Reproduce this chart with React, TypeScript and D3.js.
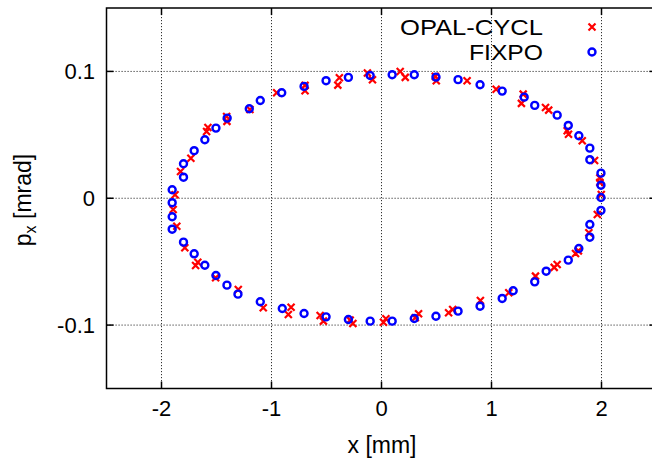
import React, { useEffect, useRef } from "react";
import * as d3 from "d3";

const xTicks = [-2, -1, 0, 1, 2];
const yTicks = [-0.1, 0, 0.1];
const yTickLabels = ["-0.1", "0", "0.1"];
const seriesNames = ["OPAL-CYCL", "FIXPO"];

const opalX = [
  -1.877, -1.827, -1.733, -1.59, -1.578, -1.408, -1.405, -1.196, -0.953, -0.695, -0.695,
  -0.397, -0.383, -0.128, -0.082, 0.17, 0.216, 0.489, 0.498, 0.778, 1.042, 1.288, 1.272,
  1.491, 1.52, 1.688, 1.7, 1.825, 1.937, 1.985, 1.985, 1.998, 1.962, 1.885, 1.764, 1.79,
  1.597, 1.57, 1.4, 1.157, 0.899, 0.647, 0.61, 0.337, 0.307, 0.018, 0.04, -0.285, -0.26,
  -0.558, -0.528, -0.822, -0.847, -1.075, -1.302, -1.508, -1.67, -1.69, -1.788, -1.861,
  -1.894,
];
const opalY = [
  0.0028, 0.0211, 0.0316, 0.0527, 0.0558, 0.0645, 0.0606, 0.07, 0.0832, 0.089, 0.0848,
  0.0892, 0.095, 0.0987, 0.0935, 0.1, 0.0953, 0.0961, 0.0927, 0.0927, 0.086, 0.0821, 0.0748,
  0.0716, 0.0695, 0.0532, 0.0505, 0.0453, 0.0298, 0.0159, 0.0125, 0.003, -0.0128, -0.0272,
  -0.0436, -0.0415, -0.0522, -0.0545, -0.0614, -0.0745, -0.0806, -0.0877, -0.0903, -0.0911,
  -0.0942, -0.0977, -0.095, -0.0961, -0.0987, -0.0924, -0.0969, -0.0859, -0.0916, -0.0864,
  -0.0719, -0.0627, -0.0505, -0.053, -0.039, -0.022, -0.0088,
];

const fixpoX = [
  -1.903, -1.8, -1.8, -1.703, -1.606, -1.505, -1.403, -1.202, -1.102, -0.907, -0.704, -0.504,
  -0.301, -0.103, 0.097, 0.298, 0.495, 0.696, 0.896, 1.097, 1.297, 1.393, 1.597, 1.698,
  1.794, 1.894, 1.894, 1.995, 1.995, 1.995, 1.995, 1.894, 1.894, 1.794, 1.698, 1.497, 1.393,
  1.197, 1.097, 0.896, 0.696, 0.495, 0.298, 0.097, -0.103, -0.301, -0.504, -0.704, -0.902,
  -1.102, -1.305, -1.405, -1.505, -1.606, -1.703, -1.8, -1.903, -1.903, -1.903,
];
const fixpoY = [
  0.0067, 0.0166, 0.0272, 0.0375, 0.0461, 0.0553, 0.0632, 0.0706, 0.0771, 0.0832, 0.0882,
  0.0927, 0.0953, 0.0968, 0.0974, 0.0974, 0.0955, 0.0935, 0.0895, 0.0845, 0.0797, 0.0732,
  0.0655, 0.0574, 0.0493, 0.0395, 0.0304, 0.0198, 0.0103, 0.0006, -0.0096, -0.0207, -0.0307,
  -0.0396, -0.0488, -0.0575, -0.0659, -0.0729, -0.079, -0.0851, -0.089, -0.093, -0.0948,
  -0.0969, -0.0969, -0.0956, -0.0935, -0.0909, -0.0869, -0.0816, -0.0756, -0.0685, -0.0609,
  -0.0528, -0.0438, -0.0346, -0.0244, -0.0146, -0.0035,
];

const W = 652;
const H = 464;
const M = { left: 106.5, right: 656.5, top: 8, bottom: 388.5 };
const FONT = "'Liberation Sans', Arial, Helvetica, sans-serif";

export default function App() {
  const ref = useRef<SVGSVGElement>(null);

  useEffect(() => {
    const svg = d3.select(ref.current);
    svg.selectAll("*").remove();

    const x = d3.scaleLinear().domain([-2.5, 2.5]).range([M.left, M.right]);
    const y = d3.scaleLinear().domain([-0.15, 0.15]).range([M.bottom, M.top]);

    svg.append("rect").attr("width", W).attr("height", H).attr("fill", "#fff");

    const grid = svg.append("g");
    xTicks.forEach((t) => {
      grid.append("line")
        .attr("x1", x(t)).attr("x2", x(t))
        .attr("y1", M.top).attr("y2", M.bottom)
        .attr("stroke", "#333").attr("stroke-width", 1)
        .attr("stroke-dasharray", "1.2,1.8");
    });
    yTicks.forEach((t) => {
      grid.append("line")
        .attr("x1", M.left).attr("x2", M.right)
        .attr("y1", y(t)).attr("y2", y(t))
        .attr("stroke", "#333").attr("stroke-width", 1)
        .attr("stroke-dasharray", "1.2,1.8");
    });

    const tk = svg.append("g").attr("stroke", "#000").attr("stroke-width", 1.5);
    xTicks.forEach((t) => {
      tk.append("line").attr("x1", x(t)).attr("x2", x(t)).attr("y1", M.bottom).attr("y2", M.bottom - 7);
      tk.append("line").attr("x1", x(t)).attr("x2", x(t)).attr("y1", M.top).attr("y2", M.top + 7);
    });
    yTicks.forEach((t) => {
      tk.append("line").attr("x1", M.left).attr("x2", M.left + 7).attr("y1", y(t)).attr("y2", y(t));
      tk.append("line").attr("x1", M.right).attr("x2", M.right - 7).attr("y1", y(t)).attr("y2", y(t));
    });

    svg.append("rect")
      .attr("x", M.left).attr("y", M.top)
      .attr("width", M.right - M.left).attr("height", M.bottom - M.top)
      .attr("fill", "none").attr("stroke", "#000").attr("stroke-width", 1.5);

    const lab = svg.append("g").attr("font-family", FONT).attr("font-size", 22).attr("fill", "#000");
    xTicks.forEach((t) => {
      lab.append("text").attr("x", x(t)).attr("y", 416).attr("text-anchor", "middle").text(String(t));
    });
    yTicks.forEach((t, i) => {
      lab.append("text").attr("x", 95).attr("y", y(t) + 8).attr("text-anchor", "end").text(yTickLabels[i]);
    });

    lab.append("text").attr("x", 382).attr("y", 453).attr("text-anchor", "middle")
      .attr("font-size", 23).text("x [mm]");
    const yl = lab.append("text")
      .attr("transform", "translate(31,200) rotate(-90)")
      .attr("text-anchor", "middle").attr("font-size", 23);
    yl.append("tspan").text("p");
    yl.append("tspan").attr("font-size", 16).attr("dy", 5).text("x");
    yl.append("tspan").attr("dy", -5).text(" [mrad]");

    const cross = (g: any, cx: number, cy: number, s: number) => {
      g.append("path")
        .attr("d", `M${cx - s},${cy - s}L${cx + s},${cy + s}M${cx - s},${cy + s}L${cx + s},${cy - s}`)
        .attr("stroke", "#ff0000").attr("stroke-width", 2.2).attr("fill", "none");
    };
    const circ = (g: any, cx: number, cy: number) => {
      g.append("circle").attr("cx", cx).attr("cy", cy).attr("r", 3.5)
        .attr("fill", "none").attr("stroke", "#0000ff").attr("stroke-width", 2.4);
    };

    const gOpal = svg.append("g");
    opalX.forEach((v, i) => cross(gOpal, x(v), y(opalY[i]), 3.5));
    const gFix = svg.append("g");
    fixpoX.forEach((v, i) => circ(gFix, x(v), y(fixpoY[i])));

    const leg = svg.append("g").attr("font-family", FONT).attr("font-size", 22).attr("fill", "#000");
    leg.append("text").attr("x", 543).attr("y", 35).attr("text-anchor", "end")
      .attr("textLength", 143).attr("lengthAdjust", "spacingAndGlyphs").text(seriesNames[0]);
    leg.append("text").attr("x", 543).attr("y", 60).attr("text-anchor", "end")
      .attr("textLength", 74).attr("lengthAdjust", "spacingAndGlyphs").text(seriesNames[1]);
    cross(svg, 592, 27, 3.5);
    circ(svg, 592, 52);
  }, []);

  return (
    <svg
      ref={ref}
      width={W}
      height={H}
      style={{ position: "fixed", left: 0, top: 0, display: "block" }}
    />
  );
}
